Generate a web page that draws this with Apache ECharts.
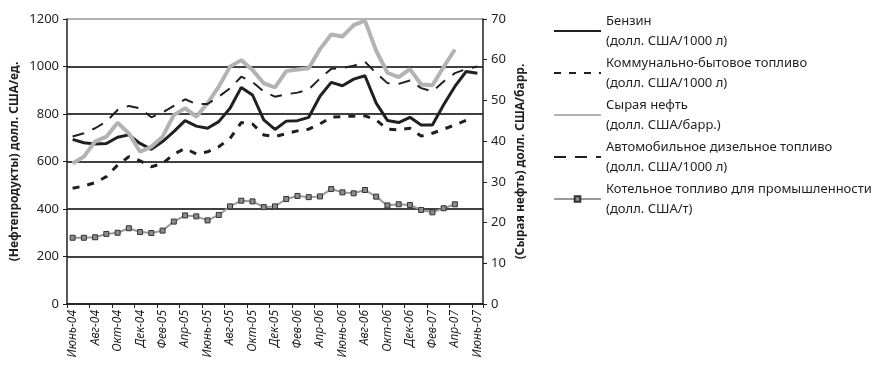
<!DOCTYPE html>
<html>
<head>
<meta charset="utf-8">
<script src="https://cdn.jsdelivr.net/npm/echarts@6/dist/echarts.min.js"></script>
<style>
  html, body { margin: 0; padding: 0; background: #fff; }
  #chart { width: 892px; height: 371px; }
</style>
</head>
<body>
<div id="chart"></div>
<script>
// months Июнь-04 .. Июнь-07
var months = ['Июнь-04', 'Июль-04', 'Авг-04', 'Сен-04', 'Окт-04', 'Ноя-04', 'Дек-04',
    'Янв-05', 'Фев-05', 'Мар-05', 'Апр-05', 'Май-05', 'Июнь-05', 'Июль-05', 'Авг-05',
    'Сен-05', 'Окт-05', 'Ноя-05', 'Дек-05', 'Янв-06', 'Фев-06', 'Мар-06', 'Апр-06',
    'Май-06', 'Июнь-06', 'Июль-06', 'Авг-06', 'Сен-06', 'Окт-06', 'Ноя-06', 'Дек-06',
    'Янв-07', 'Фев-07', 'Мар-07', 'Апр-07', 'Май-07', 'Июнь-07'];

// left axis, долл. США/1000 л
var gasoline = [693, 679, 674, 676, 702, 712, 676, 651, 684, 726, 772, 749, 740, 768, 824,
    912, 880, 775, 735, 770, 772, 786, 875, 933, 919, 947, 961, 846, 773, 764, 786,
    754, 754, 839, 916, 979, 972];
var heatingOil = [487, 497, 511, 536, 585, 620, 603, 578, 592, 631, 655, 632, 641, 662, 697,
    764, 758, 712, 705, 717, 729, 736, 758, 787, 789, 791, 792, 775, 736, 733, 740,
    707, 719, 736, 754, 773, null];
var diesel = [705, 719, 740, 768, 817, 834, 824, 786, 806, 834, 862, 842, 842, 873, 908,
    957, 935, 895, 873, 883, 890, 903, 950, 990, 994, 1003, 1020, 972, 930, 927, 941,
    909, 895, 937, 972, 989, 1000];
// left axis, долл. США/т
var fuelOil = [279, 279, 281, 295, 300, 319, 303, 299, 309, 347, 373, 369, 352, 375, 411,
    435, 432, 408, 411, 442, 455, 450, 453, 484, 470, 466, 480, 452, 415, 420, 417,
    396, 386, 403, 420, null, null];
// right axis, долл. США/барр.
var crude = [34.5, 36.2, 39.9, 41.1, 44.5, 41.9, 37.4, 38.6, 41.1, 46.4, 48.1, 46.0, 49.3,
    53.4, 58.3, 59.9, 57.5, 54.2, 53.2, 57.2, 57.6, 57.9, 62.6, 66.2, 65.7, 68.5, 69.6,
    62.2, 56.8, 55.7, 57.7, 53.9, 53.7, 58.2, 62.5, null, null];

var names = ['Бензин', 'Коммунально-бытовое топливо', 'Сырая нефть',
    'Автомобильное дизельное топливо', 'Котельное топливо для промышленности'];
var units = ['(долл. США/1000 л)', '(долл. США/1000 л)', '(долл. США/барр.)',
    '(долл. США/1000 л)', '(долл. США/т)'];
var leftTicks = [0, 200, 400, 600, 800, 1000, 1200];
var rightTicks = [0, 10, 20, 30, 40, 50, 60, 70];

var font = 'Noto Sans';
var ink = '#231f20';
var label = function (i) { return names[i] + '\n' + units[i]; };
var plain = function (v) { return String(v); };
var noMarker = { opacity: 0 };

var chart = echarts.init(document.getElementById('chart'));

var option = {
    animation: false,
    textStyle: { fontFamily: font, color: ink },
    grid: { left: 67, right: 409, top: 19, bottom: 67 },
    legend: {
        orient: 'vertical',
        left: 548,
        top: 6,
        itemWidth: 47,
        itemHeight: 7,
        itemGap: 2,
        textStyle: { fontSize: 13, lineHeight: 20, color: ink, fontFamily: font },
        data: [
            { name: label(0), itemStyle: noMarker },
            { name: label(1), itemStyle: noMarker },
            { name: label(2), itemStyle: noMarker },
            { name: label(3), itemStyle: noMarker },
            { name: label(4) }
        ]
    },
    xAxis: {
        type: 'category',
        data: months,
        boundaryGap: true,
        axisLine: { lineStyle: { color: ink, width: 1.5 } },
        axisTick: { show: true, length: 4, lineStyle: { color: ink } },
        axisLabel: {
            interval: 1,
            rotate: 90,
            fontStyle: 'italic',
            fontSize: 12,
            color: ink,
            margin: 6
        },
        splitLine: { show: false }
    },
    yAxis: [{
        type: 'value',
        min: leftTicks[0],
        max: leftTicks[leftTicks.length - 1],
        interval: 200,
        name: '(Нефтепродукты) долл. США/ед.',
        nameLocation: 'middle',
        nameRotate: 90,
        nameGap: 46,
        nameTextStyle: { fontWeight: 'bold', fontSize: 12, color: ink },
        axisLine: { show: true, lineStyle: { color: ink, width: 1.5 } },
        axisTick: { show: true, length: 4, lineStyle: { color: ink } },
        axisLabel: { fontSize: 13, color: ink, margin: 8, formatter: plain },
        splitLine: {
            show: true,
            lineStyle: { color: ['#000', '#000', '#000', '#000', '#000', '#000', '#999'], width: 1.5 }
        }
    }, {
        type: 'value',
        min: rightTicks[0],
        max: rightTicks[rightTicks.length - 1],
        interval: 10,
        position: 'right',
        name: '(Сырая нефть) долл. США/барр.',
        nameLocation: 'middle',
        nameRotate: 90,
        nameGap: 32,
        nameTextStyle: { fontWeight: 'bold', fontSize: 12, color: ink },
        axisLine: { show: true, lineStyle: { color: ink, width: 1.5 } },
        axisTick: { show: true, length: 4, lineStyle: { color: ink } },
        axisLabel: { fontSize: 13, color: ink, margin: 8, formatter: plain },
        splitLine: { show: false }
    }],
    series: [{
        name: label(0),
        type: 'line',
        data: gasoline,
        symbol: 'none',
        lineStyle: { color: ink, width: 3 },
        itemStyle: { color: ink }
    }, {
        name: label(1),
        type: 'line',
        data: heatingOil,
        symbol: 'none',
        lineStyle: { color: ink, width: 3, type: [7, 8] },
        itemStyle: { color: ink }
    }, {
        name: label(2),
        type: 'line',
        yAxisIndex: 1,
        data: crude,
        symbol: 'none',
        lineStyle: { color: '#b3b3b3', width: 4 },
        itemStyle: { color: '#b3b3b3' }
    }, {
        name: label(3),
        type: 'line',
        data: diesel,
        symbol: 'none',
        lineStyle: { color: ink, width: 2, type: [12, 9] },
        itemStyle: { color: ink }
    }, {
        name: label(4),
        type: 'line',
        data: fuelOil,
        symbol: 'rect',
        symbolSize: 5,
        lineStyle: { color: '#9a9a9a', width: 2 },
        itemStyle: { color: '#8c8c8c', borderColor: '#333', borderWidth: 1 }
    }]
};

chart.setOption(option);
</script>
</body>
</html>
